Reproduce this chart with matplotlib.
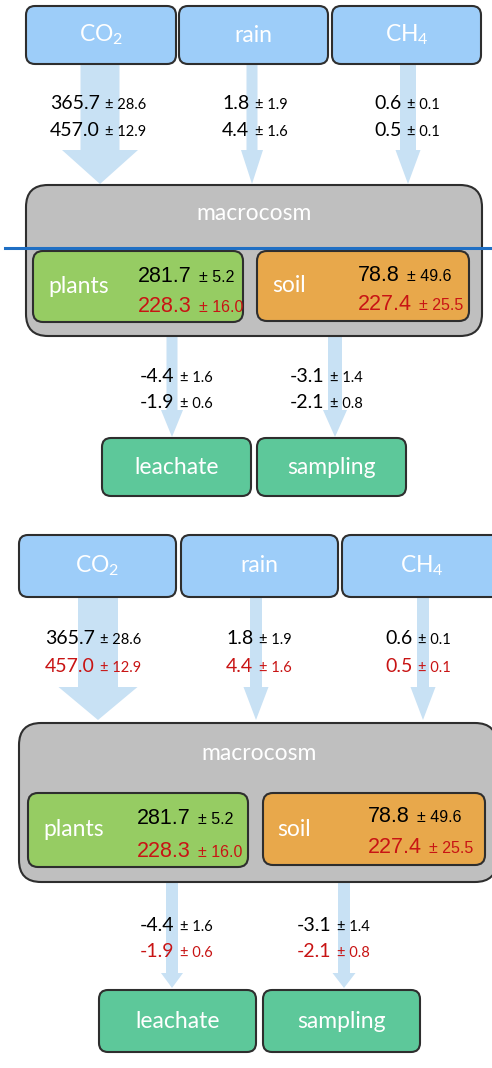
import matplotlib
matplotlib.use("Agg")
import matplotlib.pyplot as plt
from matplotlib.patches import FancyBboxPatch, Polygon

plt.rcParams["mathtext.fontset"] = "custom"
plt.rcParams["mathtext.rm"] = "Lato"
plt.rcParams["mathtext.it"] = "Lato"

# -----------------------------
# Data
# -----------------------------
sources = ["CO$_2$", "rain", "CH$_4$"]
in_mean_1 = [365.7, 1.8, 0.6]
in_sd_1 = [28.6, 1.9, 0.1]
in_mean_2 = [457.0, 4.4, 0.5]
in_sd_2 = [12.9, 1.6, 0.1]

pools = ["plants", "soil"]
pool_mean_1 = [281.7, 78.8]
pool_sd_1 = [5.2, 49.6]
pool_mean_2 = [228.3, 227.4]
pool_sd_2 = [16.0, 25.5]

sinks = ["leachate", "sampling"]
out_mean_1 = [-4.4, -3.1]
out_sd_1 = [1.6, 1.4]
out_mean_2 = [-1.9, -2.1]
out_sd_2 = [0.6, 0.8]

# colours
C_SRC = "#9DCDF9"
C_ARROW = "#C8E1F4"
C_MACRO = "#BFBFBF"
C_POOL = ["#96CC63", "#E8A84B"]
C_SINK = "#5DC89A"
C_EDGE = "#2E2E2E"
C_RED = "#C81414"

LABEL_FONT = "Lato"
NUM_FONT = "Liberation Sans"

# -----------------------------
# Layout of the two panels (pixels, y downwards)
# -----------------------------
panel_1 = dict(
    src_boxes=[(26, 6, 150, 58), (179, 6, 149, 58), (332, 6, 149, 58)],
    src_arrows=[(100, 39, 76), (252, 11, 22), (408, 16, 25)],
    src_arrow_y=(64, 150, 184),
    src_text_x=[50, 222, 374],
    src_text_y=(109, 136),
    macro=(26, 185, 456, 151),
    macro_text=(254, 214),
    pool_boxes=[(33, 251, 210, 71), (257, 251, 212, 70)],
    pool_label_x=[48, 272],
    pool_num_x=[138, 358],
    pool_num_y=[(282, 312), (281, 310)],
    out_arrows=[(172, 11, 22), (335, 14, 24)],
    out_arrow_y=(336, 410, 437),
    out_text_x=[140, 290],
    out_text_y=(382, 408),
    sink_boxes=[(102, 438, 149, 58), (257, 438, 149, 58)],
    second_flux_color="black",
)

panel_2 = dict(
    src_boxes=[(19, 535, 157, 62), (181, 535, 157, 62), (342, 535, 160, 62)],
    src_arrows=[(98, 40, 79), (256, 12, 25), (423, 12, 25)],
    src_arrow_y=(597, 687, 720),
    src_text_x=[45, 226, 385],
    src_text_y=(644, 672),
    macro=(19, 723, 478, 159),
    macro_text=(259, 753),
    pool_boxes=[(28, 793, 220, 74), (263, 793, 222, 72)],
    pool_label_x=[43, 277],
    pool_num_x=[137, 368],
    pool_num_y=[(824, 857), (822, 853)],
    out_arrows=[(172, 12, 22), (344, 12, 23)],
    out_arrow_y=(882, 973, 988),
    out_text_x=[140, 297],
    out_text_y=(931, 957),
    sink_boxes=[(99, 990, 157, 62), (263, 990, 157, 62)],
    second_flux_color=C_RED,
)


def box(ax, rect, color, r, z=2):
    x, y, w, h = rect
    p = FancyBboxPatch((x, y), w, h, boxstyle=f"round,pad=0,rounding_size={r}",
                       facecolor=color, edgecolor=C_EDGE, linewidth=1.5, zorder=z)
    ax.add_patch(p)


def arrow(ax, cx, sw, hw, y0, yh, yt):
    pts = [(cx - sw / 2, y0), (cx + sw / 2, y0), (cx + sw / 2, yh), (cx + hw / 2, yh),
           (cx, yt), (cx - hw / 2, yh), (cx - sw / 2, yh)]
    ax.add_patch(Polygon(pts, closed=True, facecolor=C_ARROW, edgecolor="none", zorder=1))


def value_text(ax, x, y, mean, sd, color, big, small, family, gap=3):
    t = ax.text(x, y, f"{mean:.1f}", fontsize=big, color=color, family=family,
                ha="left", va="baseline", zorder=5)
    ax.annotate(f"± {sd:.1f}", xy=(1, y), xycoords=(t, "data"), xytext=(gap, 0),
                textcoords="offset points", fontsize=small, color=color, family=family,
                ha="left", va="baseline", zorder=5)


def draw_panel(ax, L):
    # inputs
    y0, yh, yt = L["src_arrow_y"]
    for i, name in enumerate(sources):
        cx, sw, hw = L["src_arrows"][i]
        arrow(ax, cx, sw, hw, y0, yh, yt)
        box(ax, L["src_boxes"][i], C_SRC, 9)
        x, y, w, h = L["src_boxes"][i]
        ax.text(x + w / 2, y + h / 2, name, color="white", fontsize=16.5, family=LABEL_FONT,
                ha="center", va="center", zorder=5)
        r1, r2 = L["src_text_y"]
        value_text(ax, L["src_text_x"][i], r1, in_mean_1[i], in_sd_1[i], "black", 14, 10.5, LABEL_FONT, gap=4)
        value_text(ax, L["src_text_x"][i], r2, in_mean_2[i], in_sd_2[i], L["second_flux_color"], 14, 10.5, LABEL_FONT, gap=4)

    # macrocosm
    box(ax, L["macro"], C_MACRO, 22, z=2)
    ax.text(*L["macro_text"], "macrocosm", color="white", fontsize=16.5, family=LABEL_FONT,
            ha="center", va="center", zorder=5)

    # pools
    for i, name in enumerate(pools):
        box(ax, L["pool_boxes"][i], C_POOL[i], 10, z=3)
        x, y, w, h = L["pool_boxes"][i]
        ax.text(L["pool_label_x"][i], y + h / 2, name, color="white", fontsize=16.5,
                family=LABEL_FONT, ha="left", va="center", zorder=5)
        r1, r2 = L["pool_num_y"][i]
        value_text(ax, L["pool_num_x"][i], r1, pool_mean_1[i], pool_sd_1[i], "black", 15.5, 11.5, NUM_FONT, gap=5)
        value_text(ax, L["pool_num_x"][i], r2, pool_mean_2[i], pool_sd_2[i], C_RED, 15.5, 11.5, NUM_FONT, gap=5)

    # outputs
    y0, yh, yt = L["out_arrow_y"]
    for i, name in enumerate(sinks):
        cx, sw, hw = L["out_arrows"][i]
        arrow(ax, cx, sw, hw, y0, yh, yt)
        box(ax, L["sink_boxes"][i], C_SINK, 9)
        x, y, w, h = L["sink_boxes"][i]
        ax.text(x + w / 2, y + h / 2, name, color="white", fontsize=16.5, family=LABEL_FONT,
                ha="center", va="center", zorder=5)
        r1, r2 = L["out_text_y"]
        value_text(ax, L["out_text_x"][i], r1, out_mean_1[i], out_sd_1[i], "black", 14, 10.5, LABEL_FONT, gap=4)
        value_text(ax, L["out_text_x"][i], r2, out_mean_2[i], out_sd_2[i], L["second_flux_color"], 14, 10.5, LABEL_FONT, gap=4)


fig = plt.figure(figsize=(4.92, 10.68), dpi=100)
ax = fig.add_axes([0, 0, 1, 1])
ax.set_xlim(0, 492)
ax.set_ylim(1068, 0)
ax.axis("off")

draw_panel(ax, panel_1)
draw_panel(ax, panel_2)

# blue marker line across the first panel
ax.plot([5, 492], [248, 248], color="#1F6FC4", linewidth=2.2, zorder=6)

fig.savefig("out.png", dpi=100)
